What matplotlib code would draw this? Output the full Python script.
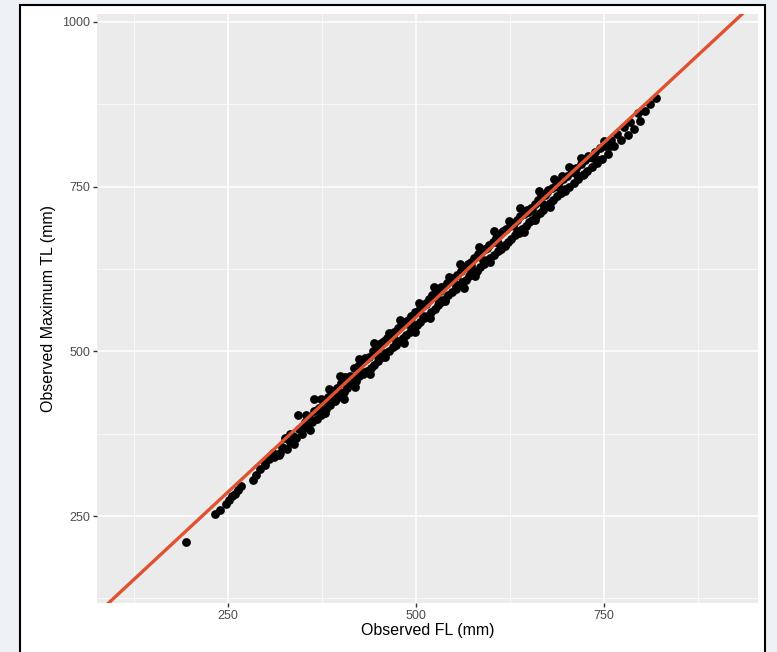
import matplotlib
matplotlib.use("Agg")
import matplotlib.pyplot as plt
from matplotlib.patches import Rectangle
from matplotlib.ticker import MultipleLocator

plt.rcParams["font.family"] = ["Liberation Sans", "DejaVu Sans"]

# observed fork length / max total length (mm)
fl = [195, 233, 239, 247, 252, 256, 260, 264, 268, 283, 287, 293, 299, 305, 312,
      319, 322, 328, 332, 336, 340, 345, 348, 352, 355, 358, 362, 365, 368, 371,
      374, 377, 380, 383, 386, 389, 392, 395, 398, 401, 404, 406, 409, 412, 415,
      418, 420, 423, 425, 428, 430, 433, 435, 438, 440, 443, 445, 447, 450, 452,
      455, 457, 459, 462, 464, 466, 469, 471, 473, 476, 478, 480, 483, 485, 487,
      490, 492, 494, 497, 499, 501, 504, 506, 508, 511, 513, 515, 518, 520, 522,
      525, 527, 529, 532, 534, 536, 539, 541, 543, 546, 548, 550, 553, 555, 557,
      560, 562, 564, 567, 569, 571, 574, 576, 578, 581, 583, 585, 588, 590, 592,
      595, 597, 599, 602, 604, 606, 609, 611, 613, 616, 618, 620, 623, 625, 627,
      630, 632, 634, 637, 639, 641, 644, 646, 648, 651, 653, 655, 658, 660, 662,
      665, 667, 669, 672, 674, 676, 679, 681, 683, 686, 688, 691, 693, 696, 698,
      701, 704, 707, 710, 713, 716, 719, 722, 725, 728, 731, 734, 738, 741, 745,
      748, 752, 756, 760, 764, 768, 773, 777, 782, 785, 790, 795, 798, 805, 812,
      820,
      300, 310, 318, 326, 333, 338, 343, 349, 354, 359, 364, 369, 374, 379, 384,
      389, 394, 399, 404, 409, 414, 419, 424, 429, 434, 439, 444, 449, 454, 459,
      464, 469, 474, 479, 484, 489, 494, 499, 504, 509, 514, 519, 524, 529, 534,
      539, 544, 549, 554, 559, 564, 569, 574, 579, 584, 589, 594, 599, 604, 609,
      614, 619, 624, 629, 634, 639, 644, 649, 654, 659, 664, 669, 674, 679, 684,
      689, 694, 699, 704, 709, 714, 719, 724, 729, 735, 742, 750, 758]
tl = [210, 253, 259, 268, 275, 281, 284, 290, 295, 305, 312, 322, 332, 337, 340,
      346, 355, 352, 362, 372, 368, 382, 375, 392, 385, 400, 392, 410, 398, 414,
      404, 425, 412, 430, 418, 440, 425, 445, 432, 452, 438, 461, 445, 462, 450,
      474, 455, 478, 462, 484, 466, 490, 470, 492, 475, 500, 480, 506, 486, 510,
      492, 515, 497, 520, 500, 525, 506, 530, 510, 535, 516, 538, 520, 544, 525,
      548, 530, 554, 535, 560, 540, 563, 545, 570, 550, 574, 553, 580, 560, 585,
      565, 590, 570, 592, 575, 598, 580, 603, 585, 608, 590, 612, 595, 616, 600,
      622, 605, 628, 608, 632, 614, 636, 618, 642, 622, 647, 628, 652, 632, 656,
      638, 662, 642, 666, 646, 672, 652, 676, 656, 682, 660, 686, 666, 690, 670,
      695, 676, 700, 680, 705, 686, 708, 690, 714, 696, 718, 700, 724, 706, 730,
      710, 735, 715, 738, 720, 745, 725, 748, 730, 752, 735, 757, 740, 762, 744,
      766, 750, 772, 756, 778, 762, 784, 768, 790, 774, 795, 780, 802, 786, 808,
      792, 812, 800, 820, 812, 830, 820, 840, 828, 848, 838, 862, 850, 865, 875,
      885,
      327, 346, 342, 369, 374, 360, 403, 384, 403, 380, 428, 411, 427, 406, 443,
      437, 428, 463, 427, 456, 460, 446, 489, 469, 488, 465, 513, 495, 512, 491,
      528, 522, 513, 548, 512, 541, 545, 530, 574, 554, 572, 550, 598, 580, 597,
      576, 613, 607, 598, 633, 596, 626, 630, 615, 659, 639, 657, 635, 683, 665,
      681, 661, 698, 691, 683, 718, 681, 711, 715, 700, 744, 724, 742, 719, 761,
      750, 766, 746, 780, 776, 768, 794, 769, 796, 793, 790, 819, 811]

# fitted line
intercept = 21
slope = 1.061

fig = plt.figure(figsize=(7.77, 6.52), dpi=100, facecolor="#edf1f6")
fig.patches.append(Rectangle((20 / 777, -0.05), 745 / 777, 1.05 - 5 / 652,
                             transform=fig.transFigure, facecolor="white",
                             edgecolor="black", linewidth=1.5, zorder=-10))

ax = fig.add_axes([97 / 777, 49 / 652, 661 / 777, 589 / 652])
ax.set_facecolor("#ebebeb")
for s in ax.spines.values():
    s.set_visible(False)

ax.xaxis.set_major_locator(MultipleLocator(250))
ax.xaxis.set_minor_locator(MultipleLocator(125))
ax.yaxis.set_major_locator(MultipleLocator(250))
ax.yaxis.set_minor_locator(MultipleLocator(125))
ax.grid(which="major", color="white", linewidth=1.1)
ax.grid(which="minor", color="white", linewidth=0.5)
ax.set_axisbelow(True)

ax.scatter(fl, tl, s=40, color="black", zorder=3, linewidths=0)
ax.axline((0, intercept), slope=slope, color="#e0522f", linewidth=2.4, zorder=4)

ax.set_xlim(76, 955)
ax.set_ylim(118, 1012)
ax.set_xticks([250, 500, 750])
ax.set_yticks([250, 500, 750, 1000])
ax.tick_params(which="major", length=3, width=1, color="#333333",
               labelcolor="#4d4d4d", labelsize=9, pad=2)
ax.tick_params(which="minor", length=0)

ax.set_xlabel("Observed FL (mm)", fontsize=11.5, labelpad=1)
ax.set_ylabel("Observed Maximum TL (mm)", fontsize=11.5, labelpad=4)

fig.savefig("out.png", dpi=100, facecolor=fig.get_facecolor())
